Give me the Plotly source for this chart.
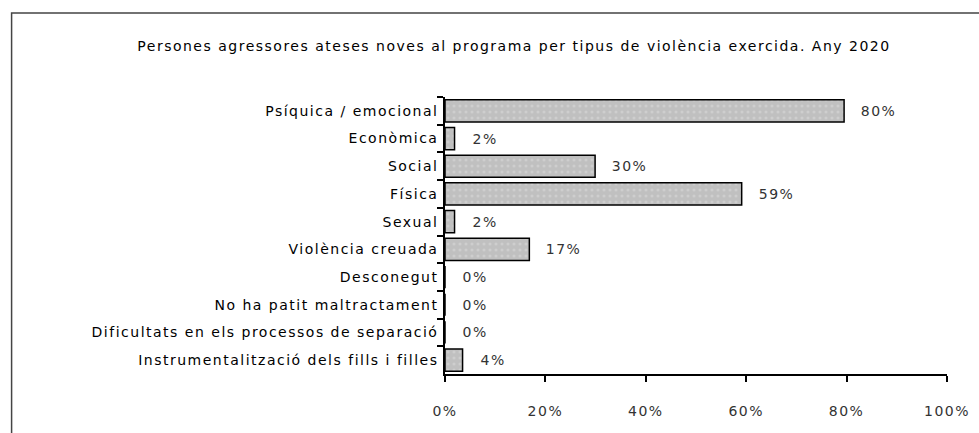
import plotly.graph_objects as go

categories = [
    "Psíquica / emocional",
    "Econòmica",
    "Social",
    "Física",
    "Sexual",
    "Violència creuada",
    "Desconegut",
    "No ha patit maltractament",
    "Dificultats en els processos de separació",
    "Instrumentalització dels fills i filles",
]
values = [79.5, 1.9, 29.9, 59.1, 1.9, 16.8, 0, 0, 0, 3.5]
x_ticks = [0, 20, 40, 60, 80, 100]
x_ticktext = ["0%", "20%", "40%", "60%", "80%", "100%"]
title_text = "Persones agressores ateses noves al programa per tipus de violència exercida. Any 2020"

FONT = "DejaVu Sans"
FS = 14
W, H = 979, 433
L, R, T, B = 445, 29, 97, 59
pw, ph = W - L - R, H - T - B

fig = go.Figure()
fig.add_trace(go.Bar(
    x=values,
    y=categories,
    orientation="h",
    marker=dict(
        color="#c0c0c0",
        line=dict(color="#000000", width=1.5),
        pattern=dict(shape=".", fgcolor="#dcdcdc", bgcolor="#c0c0c0", size=6, solidity=0.2),
    ),
    width=0.8,
    hoverinfo="skip",
))

for v, c in zip(values, categories):
    fig.add_annotation(
        x=v, y=c, xref="x", yref="y",
        text=f"{v:.0f}%", showarrow=False,
        xanchor="left", xshift=17,
        font=dict(family=FONT, size=FS, color="#333333"),
    )

# outer chart border
fig.add_shape(
    type="rect", xref="paper", yref="paper",
    x0=(9 - L) / pw, x1=1.2, y0=-0.5, y1=(H - B - 13) / ph,
    line=dict(color="#444444", width=1.5), fillcolor="rgba(0,0,0,0)",
    layer="below",
)

fig.update_layout(
    width=W, height=H,
    margin=dict(l=L, r=R, t=T, b=B, pad=0),
    paper_bgcolor="white", plot_bgcolor="white",
    showlegend=False,
    title=dict(
        text=title_text, x=514 / W, xanchor="center", xref="container",
        y=1 - 46 / H, yanchor="middle", yref="container",
        font=dict(family=FONT, size=FS, color="#000000"),
    ),
    xaxis=dict(
        range=[0, 100], tickvals=x_ticks, ticktext=x_ticktext,
        showgrid=False, zeroline=False,
        showline=True, linecolor="#000000", linewidth=1.5,
        ticks="outside", ticklen=6, tickcolor="#000000", tickwidth=1.5,
        ticklabelstandoff=17,
        tickfont=dict(family=FONT, size=FS, color="#333333"),
        fixedrange=True,
    ),
    yaxis=dict(
        autorange="reversed", categoryorder="array", categoryarray=categories,
        showgrid=False, zeroline=False,
        showline=True, linecolor="#000000", linewidth=1.5,
        ticks="outside", ticklen=6, tickcolor="#000000", tickwidth=1.5,
        tickson="boundaries",
        ticklabelstandoff=2,
        tickfont=dict(family=FONT, size=FS, color="#000000"),
        fixedrange=True,
    ),
    bargap=0.2,
)

post = (
    "document.body.style.margin='0';"
    "var gd=document.getElementById('{plot_id}');"
    "gd.querySelectorAll('text').forEach(function(t){t.style.letterSpacing='1.5px';});"
)
fig.write_html("out.html", post_script=post, config={"displayModeBar": False})
